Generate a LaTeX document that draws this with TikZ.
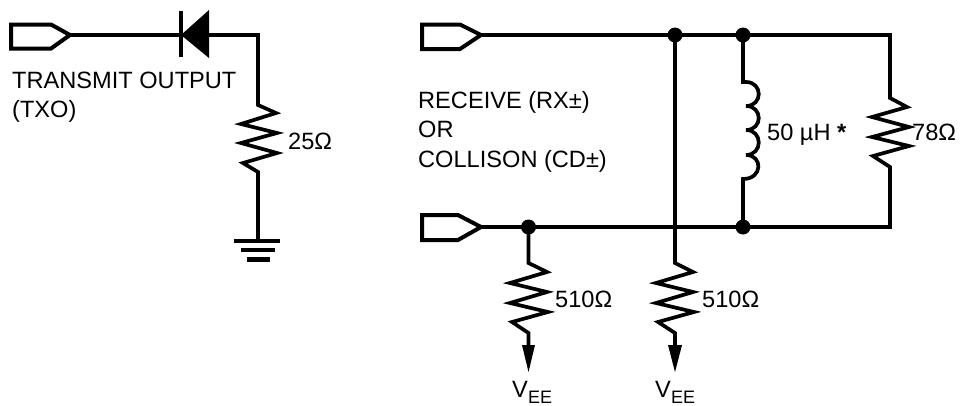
\documentclass[tikz,border=0pt]{standalone}
\usepackage{fontspec}
\setmainfont{Liberation Sans}
\tikzset{
  wire/.style={line width=3.7pt,line join=miter,line cap=butt},
  portshape/.style={line width=4pt,line join=miter,fill=white},
  junction/.style={circle,fill=black,inner sep=0pt,minimum size=15pt},
  lbl/.style={anchor=base west,inner sep=0pt,font=\fontsize{23.6}{23.6}\selectfont},
  sublbl/.style={anchor=base west,inner sep=0pt,font=\fontsize{18}{18}\selectfont},
  tip/.style={fill=black,draw=none}
}
\begin{document}
\begin{tikzpicture}[x=1pt,y=-1pt]
\useasboundingbox (0,0) rectangle (961,405);
% --- left circuit
\coordinate (txo) at (70,35);
\coordinate (dk) at (181,35);
\coordinate (da) at (209,35);
\coordinate (corner) at (258,35);
\coordinate (r1t) at (258,105);
\coordinate (r1b) at (258,172);
\coordinate (gnd) at (258,241);
\draw[wire] (txo) -- (dk);
\draw[wire] (da) -- (corner) -- (r1t) -- (276,113) -- (241,124) -- (277,133) -- (241,143) -- (277,153) -- (243,163) -- (r1b) -- (gnd);
\draw[portshape] (11,24.5) -- (51,24.5) -- (txo) -- (51,48.5) -- (11,48.5) -- cycle;
\fill[tip] (181,35) -- (209,10) -- (209,58) -- cycle;
\draw[line width=4pt] (181,11) -- (181,57);
\draw[line width=3.8pt] (234,241) -- (280,241);
\draw[line width=4pt] (241,250) -- (275,250);
\draw[line width=5pt] (247,259) -- (270,259);
\node[lbl] (t1) at (12,88) {TRANSMIT OUTPUT};
\node[lbl] (t2) at (12,117) {(TXO)};
\node[lbl] (t3) at (288,149) {25Ω};
% --- right circuit
\coordinate (rx) at (481,35);
\coordinate (cd) at (481,227);
\coordinate (ne) at (890,35);
\coordinate (se) at (890,227);
\node[junction] (j1) at (675,35) {};
\node[junction] (j2) at (743,35) {};
\node[junction] (j3) at (528.5,227) {};
\node[junction] (j4) at (743,227) {};
\draw[wire] (rx) -- (j1.center) -- (j2.center) -- (ne) -- (890,98) -- (907,107) -- (872,117) -- (909,127) -- (872,137) -- (909,146) -- (873,156) -- (890,167) -- (se) -- (j4.center) -- (j3.center) -- (cd);
\draw[portshape] (422,24.5) -- (460,24.5) -- (rx) -- (460,49) -- (422,49) -- cycle;
\draw[portshape] (422,215) -- (458,215) -- (cd) -- (458,240) -- (422,240) -- cycle;
% inductor
\draw[wire] (j2.center) -- (743,82) -- (746,82)
  .. controls (763,82) and (763,106) .. (746,106)
  .. controls (763,106) and (763,130) .. (746,130)
  .. controls (763,130) and (763,155) .. (746,155)
  .. controls (763,155) and (763,179) .. (743,179)
  -- (j4.center);
% pull-down left
\coordinate (v1) at (528.5,348);
\coordinate (v2) at (675,348);
\draw[wire] (j3.center) -- (528.5,263) -- (547,272) -- (510,283) -- (547,292) -- (510,303) -- (548,312) -- (512,322) -- (528.5,333) -- (v1);
\fill[tip] (522,345) -- (535,345) -- (528.5,372) -- cycle;
% pull-down right
\draw[wire] (j1.center) -- (675,263) -- (693,272) -- (656,283) -- (693,292) -- (656,303) -- (694,312) -- (658,322) -- (675,333) -- (v2);
\fill[tip] (668,345) -- (682,345) -- (675,372) -- cycle;
% labels
\node[lbl] (t4) at (418,108) {RECEIVE (RX±)};
\node[lbl] (t5) at (418,137) {OR};
\node[lbl] (t6) at (418,167) {COLLISON (CD±)};
\node[lbl] (t7) at (767,140) {50 µH \textbf{*}};
\node[lbl] (t8) at (912,140) {78Ω};
\node[lbl] (t9) at (555,307) {510Ω};
\node[lbl] (t10) at (702,307) {510Ω};
\node[lbl] (v1a) at (512,397) {V};
\node[sublbl] (v1b) at (528,403) {EE};
\node[lbl] (v2a) at (655,397) {V};
\node[sublbl] (v2b) at (671,403) {EE};
\end{tikzpicture}
\end{document}
